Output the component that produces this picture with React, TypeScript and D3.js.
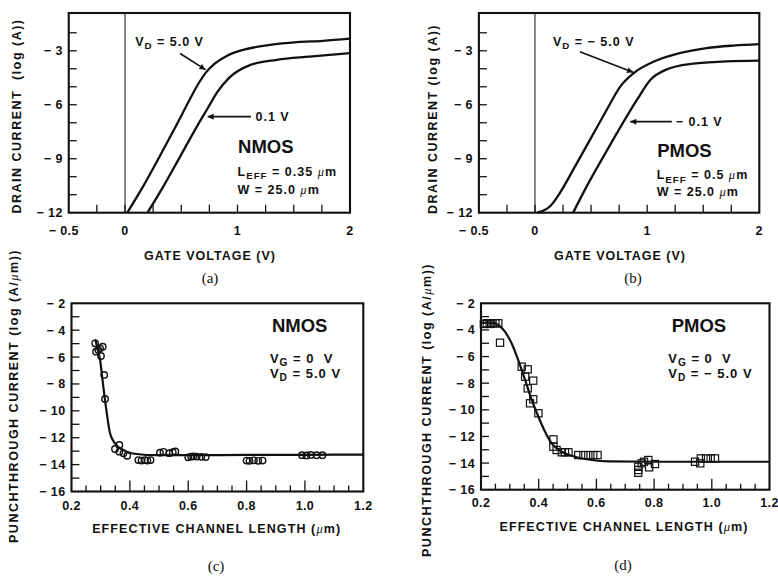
import React, { useEffect, useRef } from "react";
import { select, scaleLinear, line, curveMonotoneX, range } from "d3";

// (a) NMOS: log drain current vs gate voltage
const nmosGateHigh = [0.02, 0.16, 0.31, 0.46, 0.58, 0.66, 0.72, 0.8, 0.9, 1.05, 1.29, 1.53, 1.76, 2.0];
const nmosLogIdHigh = [-12, -10.55, -8.85, -7.1, -5.65, -4.75, -4.2, -3.7, -3.3, -2.95, -2.67, -2.52, -2.45, -2.33];
const nmosGateLow = [0.2, 0.34, 0.49, 0.64, 0.73, 0.82, 0.93, 1.11, 1.35, 1.64, 2.0];
const nmosLogIdLow = [-12, -10.55, -8.88, -7.2, -6.25, -5.3, -4.48, -3.8, -3.5, -3.32, -3.13];

// (b) PMOS: log drain current vs gate voltage
const pmosGateHigh = [0.02, 0.07, 0.13, 0.22, 0.34, 0.49, 0.64, 0.76, 0.88, 1.06, 1.29, 1.53, 1.77, 2.0];
const pmosLogIdHigh = [-12, -11.9, -11.67, -10.92, -9.62, -7.95, -6.28, -4.99, -4.24, -3.6, -3.13, -2.85, -2.71, -2.63];
const pmosGateLow = [0.34, 0.46, 0.61, 0.73, 0.84, 0.91, 1.03, 1.17, 1.41, 1.71, 2.0];
const pmosLogIdLow = [-12, -10.55, -8.88, -7.58, -6.42, -5.72, -4.61, -4.05, -3.72, -3.59, -3.55];

// (c) NMOS punchthrough current vs effective channel length
const nmosFitL = [0.281, 0.298, 0.309, 0.321, 0.332, 0.349, 0.378, 0.423, 0.49, 0.6, 0.8, 1.0, 1.2];
const nmosFitI = [-4.68, -6.22, -8.2, -10.18, -11.67, -12.42, -12.92, -13.21, -13.3, -13.3, -13.28, -13.27, -13.25];
const nmosMeasL = [0.281, 0.284, 0.292, 0.298, 0.307, 0.301, 0.312, 0.315, 0.349, 0.364, 0.364, 0.378, 0.391,
  0.429, 0.44, 0.452, 0.46, 0.471, 0.503, 0.515, 0.535, 0.547, 0.556, 0.6, 0.61, 0.617, 0.629, 0.645, 0.66,
  0.8, 0.81, 0.825, 0.84, 0.855, 0.99, 1.005, 1.02, 1.04, 1.06];
const nmosMeasI = [-4.98, -5.6, -5.47, -5.35, -5.23, -5.92, -7.33, -9.12, -12.84, -12.54, -13.04, -13.16, -13.34,
  -13.66, -13.7, -13.66, -13.7, -13.66, -13.11, -13.05, -13.15, -13.08, -13.02, -13.46, -13.4, -13.38, -13.4, -13.42, -13.44,
  -13.7, -13.72, -13.68, -13.72, -13.7, -13.3, -13.32, -13.28, -13.3, -13.3];

// (d) PMOS punchthrough current vs effective channel length
const pmosFitL = [0.2, 0.237, 0.26, 0.283, 0.306, 0.329, 0.353, 0.376, 0.399, 0.422, 0.445, 0.48, 0.526, 0.584, 0.641, 0.8, 1.0, 1.2];
const pmosFitI = [-3.46, -3.46, -3.63, -4.13, -5.0, -6.26, -7.76, -9.26, -10.52, -11.65, -12.52, -13.15, -13.52, -13.77, -13.87, -13.9, -13.9, -13.9];
const pmosMeasL = [0.21, 0.22, 0.23, 0.24, 0.25, 0.26, 0.266, 0.341, 0.362, 0.353, 0.362, 0.381, 0.381, 0.37, 0.399,
  0.451, 0.451, 0.462, 0.48, 0.491, 0.503, 0.537, 0.555, 0.572, 0.589, 0.604,
  0.745, 0.745, 0.745, 0.757, 0.765, 0.78, 0.783, 0.803, 0.942, 0.96, 0.962, 0.98, 0.996, 1.011];
const pmosMeasI = [-3.55, -3.5, -3.55, -3.5, -3.5, -3.5, -4.96, -6.76, -6.96, -7.51, -8.39, -7.81, -9.21, -9.51, -10.26,
  -12.22, -12.77, -13.02, -13.19, -13.19, -13.19, -13.4, -13.4, -13.4, -13.4, -13.4,
  -14.28, -14.52, -14.73, -14.02, -13.9, -13.77, -14.32, -14.07, -13.9, -14.02, -13.65, -13.65, -13.65, -13.65];

// tick labels
const gateTickValues = [-0.5, 0, 1, 2];
const gateTickLabels = ["\u2212 0.5", "0", "1", "2"];
const drainTickValues = [-3, -6, -9, -12];
const drainTickLabels = ["\u2212 3", "\u2212 6", "\u2212 9", "\u2212 12"];
const lengthTickValues = [0.2, 0.4, 0.6, 0.8, 1.0, 1.2];
const lengthTickLabels = ["0.2", "0.4", "0.6", "0.8", "1.0", "1.2"];
const punchTickValues = [-2, -4, -6, -8, -10, -12, -14, -16];
const punchTickLabels = ["\u2212 2", "\u2212 4", "\u2212 6", "\u2212 8", "\u2212 10", "\u2212 12", "\u2212 14", "\u2212 16"];

const SANS = "'Liberation Sans', Arial, Helvetica, sans-serif";
const SERIF = "'Liberation Serif', 'Times New Roman', serif";
const INK = "#111";
const MU = "<tspan font-family=\"Liberation Serif\" font-style=\"italic\" font-weight=\"normal\">\u03bc</tspan>";

const zip = (a, b) => a.map((v, i) => [v, b[i]]);

function bold(sel, size, spacing) {
  return sel
    .attr("font-family", SANS).attr("font-weight", "bold")
    .attr("font-size", size).attr("letter-spacing", spacing)
    .attr("fill", INK);
}

function frame(svg, x, y, o) {
  const g = svg.append("g");
  const [x0, x1] = x.range();
  const [yb, yt] = y.range();

  // ticks point inwards
  o.xTicks.forEach(t => {
    g.append("line")
      .attr("x1", x(t.v)).attr("x2", x(t.v))
      .attr("y1", yb).attr("y2", yb - t.len)
      .attr("stroke", INK).attr("stroke-width", 1.3);
  });
  o.yTicks.forEach(v => {
    g.append("line")
      .attr("x1", x0).attr("x2", x0 + 8)
      .attr("y1", y(v)).attr("y2", y(v))
      .attr("stroke", INK).attr("stroke-width", 1.3);
  });

  g.append("rect")
    .attr("x", x0).attr("y", yt)
    .attr("width", x1 - x0).attr("height", yb - yt)
    .attr("fill", "none").attr("stroke", INK).attr("stroke-width", 2.1);

  // tick labels
  bold(g.selectAll(".xl").data(o.xLabelValues).join("text"), 12.5, 0.4)
    .attr("x", (d, i) => x(d) + (o.xLabelShift ? o.xLabelShift[i] : 0))
    .attr("y", o.xLabelY)
    .attr("text-anchor", "middle")
    .attr("xml:space", "preserve")
    .text((d, i) => o.xLabels[i]);
  bold(g.selectAll(".yl").data(o.yLabelValues).join("text"), 12.5, 0.4)
    .attr("x", x0 - 6)
    .attr("y", d => y(d) + 4.5)
    .attr("text-anchor", "end")
    .attr("xml:space", "preserve")
    .text((d, i) => o.yLabels[i]);

  // axis titles
  bold(g.append("text"), 12.5, o.xTitleSpacing)
    .attr("x", o.xTitlePos[0]).attr("y", o.xTitlePos[1])
    .attr("text-anchor", "middle")
    .html(o.xTitle);
  bold(g.append("text"), 12.5, 1.5)
    .attr("transform", `translate(${o.yTitlePos[0]},${o.yTitlePos[1]}) rotate(-90)`)
    .attr("text-anchor", "middle")
    .attr("xml:space", "preserve")
    .html(o.yTitle);

  g.append("text")
    .attr("x", o.capPos[0]).attr("y", o.capPos[1])
    .attr("text-anchor", "middle")
    .attr("font-family", SERIF).attr("font-size", 15)
    .attr("fill", INK)
    .text(o.caption);
  return g;
}

// label with a subscript, e.g. V_D = 5.0 V
function subLabel(g, px, py, size, main, sub, rest, mu) {
  const t = bold(g.append("text"), size, 1)
    .attr("x", px).attr("y", py)
    .attr("xml:space", "preserve");
  t.append("tspan").text(main);
  t.append("tspan").attr("font-size", size * 0.78).attr("dy", size * 0.26).text(sub);
  t.append("tspan").attr("dy", -size * 0.26).text(rest);
  if (mu) {
    t.append("tspan").attr("font-family", SERIF).attr("font-style", "italic").attr("font-weight", "normal").text("\u03bc");
    t.append("tspan").text("m");
  }
}

function arrow(g, x, y, from, to) {
  g.append("line")
    .attr("x1", x(from[0])).attr("y1", y(from[1]))
    .attr("x2", x(to[0])).attr("y2", y(to[1]))
    .attr("stroke", INK).attr("stroke-width", 1.6)
    .attr("marker-end", "url(#head)");
}

function App() {
  const svgRef = useRef();

  useEffect(() => {
    const svg = select(svgRef.current);
    svg.selectAll("*").remove();

    svg.append("defs").append("marker")
      .attr("id", "head")
      .attr("viewBox", "0 0 10 10")
      .attr("refX", 10).attr("refY", 5)
      .attr("markerWidth", 9).attr("markerHeight", 6)
      .attr("markerUnits", "userSpaceOnUse")
      .attr("orient", "auto")
      .append("path").attr("d", "M0,0 L10,5 L0,10 z").attr("fill", INK);

    const gateMinor = range(-1, 8).map(i => ({ v: i * 0.25, len: 8 }));
    const drainMinor = range(-11, -1);
    const lengthMinor = range(1, 20).map(i => ({ v: 0.2 + i * 0.05, len: i % 4 === 0 ? 11 : 6 }));
    const punchMinor = range(-15, -2);

    const curve = (x, y) => line().x(d => x(d[0])).y(d => y(d[1])).curve(curveMonotoneX);

    // ---------- (a) ----------
    {
      const x = scaleLinear().domain([-0.5, 2]).range([68.75, 350]);
      const y = scaleLinear().domain([-12, -0.9]).range([212.7, 13]);
      const g = frame(svg, x, y, {
        xTicks: gateMinor, yTicks: drainMinor,
        xLabelValues: gateTickValues, xLabels: gateTickLabels, xLabelY: 235, xLabelShift: [-5, 0, 0, 0],
        yLabelValues: drainTickValues, yLabels: drainTickLabels,
        xTitle: "GATE VOLTAGE (V)", xTitlePos: [210, 260], xTitleSpacing: 1.0,
        yTitle: "DRAIN CURRENT  (log (A))", yTitlePos: [21, 116],
        caption: "(a)", capPos: [210, 283],
      });
      g.append("line").attr("x1", x(0)).attr("x2", x(0)).attr("y1", y(-0.9)).attr("y2", y(-12))
        .attr("stroke", INK).attr("stroke-width", 1);
      const c = curve(x, y);
      [zip(nmosGateHigh, nmosLogIdHigh), zip(nmosGateLow, nmosLogIdLow)].forEach(d =>
        g.append("path").attr("d", c(d)).attr("fill", "none").attr("stroke", INK).attr("stroke-width", 2.3));
      subLabel(g, x(0.09), y(-2.72), 12.5, "V", "D", " = 5.0 V");
      arrow(g, x, y, [0.49, -3.15], [0.715, -4.05]);
      arrow(g, x, y, [1.12, -6.66], [0.735, -6.66]);
      bold(g.append("text"), 12.5, 1).attr("x", x(1.16)).attr("y", y(-6.66) + 4.5).text("0.1 V");
      bold(g.append("text"), 18.5, 0).attr("x", x(1.005)).attr("y", y(-8.68)).text("NMOS");
      subLabel(g, x(1.0), y(-9.95), 12.5, "L", "EFF", " = 0.35 ", true);
      bold(g.append("text"), 12.5, 1).attr("x", x(1.0)).attr("y", y(-10.95))
        .attr("xml:space", "preserve").html("W = 25.0 " + MU + "m");
    }

    // ---------- (b) ----------
    {
      const x = scaleLinear().domain([-0.5, 2]).range([478.9, 759.3]);
      const y = scaleLinear().domain([-12, -0.9]).range([212.7, 13]);
      const g = frame(svg, x, y, {
        xTicks: gateMinor, yTicks: drainMinor,
        xLabelValues: gateTickValues, xLabels: gateTickLabels, xLabelY: 235, xLabelShift: [-5, 0, 0, 0],
        yLabelValues: drainTickValues, yLabels: drainTickLabels,
        xTitle: "GATE VOLTAGE (V)", xTitlePos: [620, 260], xTitleSpacing: 1.0,
        yTitle: "DRAIN CURRENT (log (A))", yTitlePos: [437, 119],
        caption: "(b)", capPos: [633, 283],
      });
      g.append("line").attr("x1", x(0)).attr("x2", x(0)).attr("y1", y(-0.9)).attr("y2", y(-12))
        .attr("stroke", INK).attr("stroke-width", 1);
      const c = curve(x, y);
      [zip(pmosGateHigh, pmosLogIdHigh), zip(pmosGateLow, pmosLogIdLow)].forEach(d =>
        g.append("path").attr("d", c(d)).attr("fill", "none").attr("stroke", INK).attr("stroke-width", 2.3));
      subLabel(g, x(0.16), y(-2.72), 12.5, "V", "D", " = \u2212 5.0 V");
      arrow(g, x, y, [0.4, -3.06], [0.875, -4.2]);
      arrow(g, x, y, [1.22, -6.94], [0.85, -6.94]);
      bold(g.append("text"), 12.5, 1).attr("x", x(1.255)).attr("y", y(-6.94) + 4.5)
        .attr("xml:space", "preserve").text("\u2212 0.1 V");
      bold(g.append("text"), 18.5, 0).attr("x", x(1.09)).attr("y", y(-8.9)).text("PMOS");
      subLabel(g, x(1.085), y(-10.15), 12.5, "L", "EFF", " = 0.5 ", true);
      bold(g.append("text"), 12.5, 1).attr("x", x(1.085)).attr("y", y(-11.05))
        .attr("xml:space", "preserve").html("W = 25.0 " + MU + "m");
    }

    const lengthTitle = "EFFECTIVE CHANNEL LENGTH (" + MU + "m)";
    const punchTitle = "PUNCHTHROUGH CURRENT (log (A/" + MU + "m))";

    // ---------- (c) ----------
    {
      const x = scaleLinear().domain([0.2, 1.2]).range([71.5, 363.3]);
      const y = scaleLinear().domain([-16, -2]).range([491.5, 303.3]);
      const g = frame(svg, x, y, {
        xTicks: lengthMinor, yTicks: punchMinor,
        xLabelValues: lengthTickValues, xLabels: lengthTickLabels, xLabelY: 510,
        yLabelValues: punchTickValues, yLabels: punchTickLabels,
        xTitle: lengthTitle, xTitlePos: [216.7, 533], xTitleSpacing: 1.1,
        yTitle: punchTitle, yTitlePos: [18, 396],
        caption: "(c)", capPos: [216, 571],
      });
      g.append("path").attr("d", curve(x, y)(zip(nmosFitL, nmosFitI)))
        .attr("fill", "none").attr("stroke", INK).attr("stroke-width", 2.2);
      g.selectAll(".pt").data(zip(nmosMeasL, nmosMeasI)).join("circle")
        .attr("cx", d => x(d[0])).attr("cy", d => y(d[1])).attr("r", 3.2)
        .attr("fill", "none").attr("stroke", INK).attr("stroke-width", 1.4);
      bold(g.append("text"), 18.5, 0).attr("x", x(0.887)).attr("y", y(-4.11)).text("NMOS");
      subLabel(g, x(0.88), y(-6.44), 13, "V", "G", " = 0  V");
      subLabel(g, x(0.88), y(-7.56), 13, "V", "D", " = 5.0 V");
    }

    // ---------- (d) ----------
    {
      const x = scaleLinear().domain([0.2, 1.2]).range([481, 769.5]);
      const y = scaleLinear().domain([-16, -2]).range([489.7, 303.3]);
      const g = frame(svg, x, y, {
        xTicks: lengthMinor, yTicks: punchMinor,
        xLabelValues: lengthTickValues, xLabels: lengthTickLabels, xLabelY: 507,
        yLabelValues: punchTickValues, yLabels: punchTickLabels,
        xTitle: lengthTitle, xTitlePos: [624, 531], xTitleSpacing: 1.1,
        yTitle: punchTitle, yTitlePos: [431, 410],
        caption: "(d)", capPos: [623, 570],
      });
      g.append("path").attr("d", curve(x, y)(zip(pmosFitL, pmosFitI)))
        .attr("fill", "none").attr("stroke", INK).attr("stroke-width", 2.2);
      g.selectAll(".sq").data(zip(pmosMeasL, pmosMeasI)).join("rect")
        .attr("x", d => x(d[0]) - 3.6).attr("y", d => y(d[1]) - 3.6)
        .attr("width", 7.2).attr("height", 7.2)
        .attr("fill", "none").attr("stroke", INK).attr("stroke-width", 1.2);
      bold(g.append("text"), 18.5, 0).attr("x", x(0.861)).attr("y", y(-4.13)).text("PMOS");
      subLabel(g, x(0.849), y(-6.49), 13, "V", "G", " = 0  V");
      subLabel(g, x(0.849), y(-7.61), 13, "V", "D", " = \u2212 5.0 V");
    }
  }, []);

  return (
    <React.Fragment>
      <div style={{ position: "absolute", left: 0, top: 0 }}>
        <svg ref={svgRef} width={778} height={576} style={{ display: "block", background: "#fff" }}></svg>
      </div>
    </React.Fragment>
  );
}

export default App;
